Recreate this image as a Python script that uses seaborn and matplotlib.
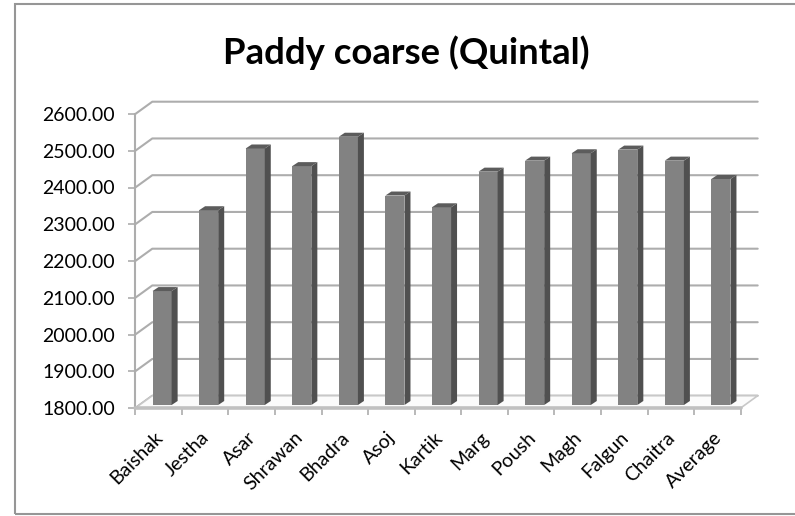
import numpy as np
import pandas as pd
import seaborn as sns
import matplotlib.pyplot as plt
from matplotlib.patches import Polygon, Rectangle

months = ["Baishak", "Jestha", "Asar", "Shrawan", "Bhadra", "Asoj", "Kartik",
          "Marg", "Poush", "Magh", "Falgun", "Chaitra", "Average"]
prices = [2110, 2330, 2498, 2450, 2530, 2370, 2338, 2435, 2465, 2485, 2495, 2465, 2415]
y_ticks = [1800, 1900, 2000, 2100, 2200, 2300, 2400, 2500, 2600]

sns.set_theme(style="white")
plt.rcParams['font.family'] = ['Lato', 'DejaVu Sans']

W, H = 795, 516
fig = plt.figure(figsize=(W / 100, H / 100), dpi=100)
ax = fig.add_axes([135.3 / W, (H - 408) / H, 605.4 / W, 294 / H])

df = pd.DataFrame({"month": months, "price": prices})
sns.barplot(data=df, x="month", y="price", color="#828282", saturation=1, width=0.41,
            linewidth=0, ax=ax, zorder=5)
ax.set_xlim(-0.5, 12.5)
ax.set_ylim(1800, 2600)
ax.set_xlabel("")
ax.set_ylabel("")

# pixels to data units for the fake 3d depth
px = 13 / 605.4
py = 800 / 294
wall_dx, wall_dy = 17 * px, 12.3 * py
bar_dx, bar_dy = 3.5 * px, 3 * py
side_dx, side_dy = 6 * px, 4 * py

grid_col = "#adadad"
for v in y_ticks:
    ax.plot([-0.5, -0.5 + wall_dx, 12.5 + wall_dx], [v, v + wall_dy, v + wall_dy],
            color=grid_col, lw=1.5, clip_on=False, zorder=1, solid_joinstyle="round")

# floor
ax.add_patch(Polygon([(-0.5, 1800), (12.5, 1800), (12.5 + wall_dx, 1800 + wall_dy), (-0.5 + wall_dx, 1800 + wall_dy)],
                     closed=True, fc="#fbfbfb", ec="#c8c8c8", lw=1.2, clip_on=False, zorder=2))
ax.plot([-0.5, 12.5], [1800, 1800], color="#c0c0c0", lw=2.6, clip_on=False, zorder=3)

for bar, v in zip(ax.patches[:len(prices)], prices):
    x0 = bar.get_x() + bar_dx
    x1 = x0 + bar.get_width()
    y0 = 1800 + bar_dy
    y1 = v + bar_dy
    bar.set_x(x0)
    bar.set_y(y0)
    bar.set_height(v - 1800)
    bar.set_clip_on(False)
    ax.add_patch(Polygon([(x1, y0), (x1 + side_dx, y0 + side_dy), (x1 + side_dx, y1 + side_dy), (x1, y1)],
                         closed=True, fc="#505050", ec="none", clip_on=False, zorder=5))
    ax.add_patch(Polygon([(x0, y1), (x0 + side_dx, y1 + side_dy), (x1 + side_dx, y1 + side_dy), (x1, y1)],
                         closed=True, fc="#5c5c5c", ec="none", clip_on=False, zorder=5))

sns.despine(ax=ax, top=True, right=True, bottom=True, left=False)
ax.spines["left"].set_color(grid_col)
ax.spines["left"].set_linewidth(1.5)

ax.set_yticks(y_ticks, labels=["%.2f" % v for v in y_ticks], fontsize=14, color="black")
ax.set_xticks(np.arange(-0.5, 13), labels=[])
ax.set_xticks(np.arange(13) - 0.1, labels=months, minor=True, rotation=45, ha="right",
              rotation_mode="anchor", fontsize=14, color="black")
ax.tick_params(axis="y", left=True, length=5, width=1.2, color=grid_col, pad=9.5)
ax.tick_params(axis="x", which="major", bottom=True, length=5, width=1.2, color=grid_col)
ax.tick_params(axis="x", which="minor", bottom=False, pad=11)

fig.text(406 / W, 1 - 53 / H, "Paddy coarse (Quintal)", fontsize=26.3, fontweight="bold",
         ha="center", va="center", color="black")
# chart frame, right edge runs off the picture
fig.add_artist(Rectangle((15 / W, 1 - 514 / H), 800 / W, 510 / H, transform=fig.transFigure,
                         fc="none", ec="#969696", lw=1.5))

fig.savefig("out.png", dpi=100)
